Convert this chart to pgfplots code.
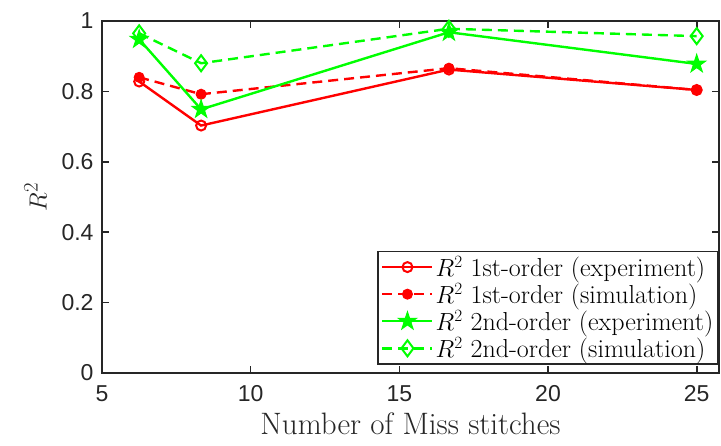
\documentclass[border=0pt]{standalone}
\usepackage{fontspec}
\usepackage{pgfplots}
\pgfplotsset{compat=1.18}
\newfontfamily\arialfont{Liberation Sans}
\definecolor{axgray}{rgb}{0.15,0.15,0.15}
\definecolor{mred}{rgb}{1,0,0}
\definecolor{mgreen}{rgb}{0,1,0}
\pgfdeclareplotmark{fstar}{%
 \pgfpathmoveto{\pgfpointpolar{90}{\pgfplotmarksize}}%
 \pgfpathlineto{\pgfpointpolar{126}{0.382\pgfplotmarksize}}%
 \pgfpathlineto{\pgfpointpolar{162}{\pgfplotmarksize}}%
 \pgfpathlineto{\pgfpointpolar{198}{0.382\pgfplotmarksize}}%
 \pgfpathlineto{\pgfpointpolar{234}{\pgfplotmarksize}}%
 \pgfpathlineto{\pgfpointpolar{270}{0.382\pgfplotmarksize}}%
 \pgfpathlineto{\pgfpointpolar{306}{\pgfplotmarksize}}%
 \pgfpathlineto{\pgfpointpolar{342}{0.382\pgfplotmarksize}}%
 \pgfpathlineto{\pgfpointpolar{18}{\pgfplotmarksize}}%
 \pgfpathlineto{\pgfpointpolar{54}{0.382\pgfplotmarksize}}%
 \pgfpathclose\pgfusepathqfillstroke}
\begin{document}
\begin{tikzpicture}
\begin{axis}[
 scale only axis, width=617bp, height=352bp,
 xmin=5, xmax=25.75, ymin=0, ymax=1,
 xtick={5,10,15,20,25}, ytick={0,0.2,0.4,0.6,0.8,1},
 tick align=inside, major tick length=7bp,
 axis line style={axgray, line width=1.6bp},
 every tick/.style={axgray, line width=1.6bp},
 tick label style={font=\arialfont\fontsize{23bp}{27bp}\selectfont, text=axgray},
 xticklabel style={yshift=-9bp},
 yticklabel style={xshift=-5bp},
 /pgf/number format/assume math mode=true,
 xlabel={Number of Miss stitches}, ylabel={$R^2$},
 label style={font=\fontsize{31bp}{34bp}\selectfont, text=axgray},
 xlabel style={yshift=-4bp},
 ylabel style={yshift=8bp},
 legend style={at={(rel axis cs:1,0.023)}, anchor=south east, draw=axgray, line width=1.6bp,
   font=\fontsize{26bp}{30bp}\selectfont, cells={anchor=west}, row sep=1.5bp, inner sep=3bp},
 legend image code/.code={\draw[mark repeat=2,mark phase=2] plot coordinates {(0bp,0bp) (25bp,0bp) (50bp,0bp)};},
]
\addplot[mred, line width=2.4bp, mark=o, mark size=5bp, mark options={solid, line width=2bp}]
 coordinates {(6.25,0.828) (8.333,0.703) (16.667,0.862) (25,0.804)};
\addlegendentry{$R^2$ 1st-order (experiment)}
\addplot[mred, line width=2.4bp, dash pattern=on 10bp off 6bp, mark=*, mark size=5bp, mark options={solid, fill=mred, line width=1bp}]
 coordinates {(6.25,0.840) (8.333,0.792) (16.667,0.866) (25,0.804)};
\addlegendentry{$R^2$ 1st-order (simulation)}
\addplot[mgreen, line width=2.4bp, mark=fstar, mark size=9.5bp, mark options={solid, fill=mgreen, line width=1bp}]
 coordinates {(6.25,0.948) (8.333,0.749) (16.667,0.968) (25,0.878)};
\addlegendentry{$R^2$ 2nd-order (experiment)}
\addplot[mgreen, line width=2.4bp, dash pattern=on 10bp off 6bp, mark=diamond, mark size=8bp, mark options={solid, line width=2bp}]
 coordinates {(6.25,0.965) (8.333,0.880) (16.667,0.978) (25,0.957)};
\addlegendentry{$R^2$ 2nd-order (simulation)}
\end{axis}
\pgfresetboundingbox
\path ([xshift=-102bp,yshift=-73bp]current axis.south west) rectangle ([xshift=2bp,yshift=21bp]current axis.north east);
\end{tikzpicture}
\end{document}
